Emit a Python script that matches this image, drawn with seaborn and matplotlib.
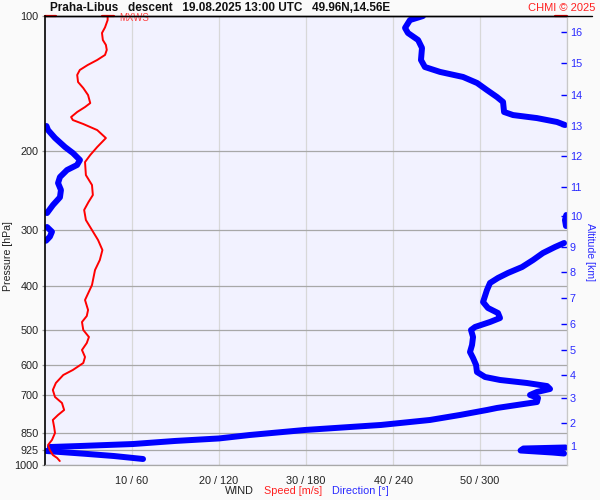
import numpy as np
import pandas as pd
import matplotlib.pyplot as plt
import seaborn as sns
from matplotlib.lines import Line2D

sns.set_style("white")
plt.rcParams['font.family'] = ['Liberation Sans', 'DejaVu Sans']

# velocidad del viento (m/s) por nivel de presion (hPa)
speed_p = [100, 102.1, 106, 109.1, 113.1, 116.0, 119.0, 122.1, 125.3, 128.6,
           131.9, 135.3, 140.3, 144.7, 150.0, 156.3, 159.5, 163.6, 167.9, 170.5,
           174.0, 179.5, 187.0, 195.8, 204.0, 211.5, 226.1, 237.9, 250.5, 259.6,
           270.4, 284.7, 299.7, 315.5, 332.1, 349.5, 367.9, 397.4, 429.1, 451.6,
           465.8, 480.3, 500.4, 518.7, 535.0, 554.4, 574.7, 592.7, 614.3, 630.3,
           656.6, 680.7, 705.5, 727.6, 754.2, 773.7, 793.8, 823.0, 848.6, 879.5,
           902.5, 925.9, 949.9, 964.7, 979.8]
speed_ms = [7.2, 7.2, 6.9, 6.55, 6.65, 7.0, 7.1, 6.9, 6.0, 4.9,
            4.0, 3.7, 3.8, 4.4, 4.95, 5.2, 4.6, 3.7, 3.0, 3.2,
            4.4, 6.0, 7.0, 6.0, 5.2, 4.6, 4.7, 5.4, 5.5, 5.0,
            4.5, 4.7, 5.4, 6.1, 6.6, 6.3, 5.75, 5.4, 4.6, 4.95,
            4.8, 4.25, 4.4, 5.05, 4.8, 4.25, 4.6, 4.4, 3.2, 2.1,
            1.25, 0.9, 1.15, 1.95, 2.2, 1.5, 0.9, 1.05, 1.15, 0.8,
            0.35, 0.55, 0.9, 1.4, 1.7]

# direccion del viento (grados) por nivel de presion (hPa)
dir_p = [100, 102.1, 106.3, 109.1, 113.1, 117.8, 125.3, 129.9, 133.2, 136.7,
         141.0, 146.2, 151.5, 155.4, 163.6, 166.2, 168.8, 172.2, 174.9,
         175.8, 179.5, 186.9, 195.8, 202.0, 209.3, 214.7, 220.3, 228.4, 235.5,
         244.1, 253.4, 263.6, 274.7,
         277.5, 284.7, 293.6,
         295.1, 302.4, 310.0, 316.6,
         320.3, 327.0, 337.2, 349.5, 362.3, 373.5, 383.2, 393.2, 407.6, 433.5,
         447.0, 458.7, 470.6, 480.3, 492.7, 500.4, 518.6, 540.4, 560.2, 577.7,
         598.8, 620.7, 636.8, 646.6, 656.7, 667.0, 677.1, 687.7, 698.3, 709.0,
         724.0, 735.1, 746.4, 754.2, 773.7, 793.8, 814.4, 835.6, 857.3, 872.7,
         884.0, 898.0, 907.2, 911.9,
         914.1, 918.9, 928.4, 938.0, 942.8,
         930.7, 943.7, 955.0, 969.7]
dir_deg = [260.7, 251.7, 248.3, 250.3, 257.3, 260.0, 259.3, 262.0, 272.4, 288.3,
           298.0, 304.8, 311.7, 315.9, 316.6, 322.8, 339.3, 353.1, 358.6,
           1.0, 2.1, 6.9, 13.8, 19.3, 24.1, 22.1, 15.2, 10.3, 9.0,
           11.0, 10.3, 5.5, 1.4,
           359.5, 358.6, 359.3,
           1.4, 4.8, 3.4, 0.7,
           358.0, 351.7, 343.4, 336.6, 329.0, 319.3, 312.4, 306.9, 304.8, 302.1,
           305.5, 312.4, 313.8, 306.9, 296.6, 293.8, 295.2, 294.5, 293.1, 295.2,
           297.3, 297.9, 303.5, 313.8, 332.4, 346.2, 348.3, 339.3, 334.5, 340.0,
           339.3, 325.5, 311.7, 304.8, 286.2, 265.5, 231.7, 179.3, 141.4, 120.0,
           89.7, 60.7, 24.1, 3.4,
           359.0, 330.0, 328.0, 350.0, 358.0,
           1.0, 26.9, 47.6, 67.6]

p_ticks = [100, 200, 300, 400, 500, 600, 700, 850, 925, 1000]
x_ticks = [10, 20, 30, 40, 50, 60]
x_labels = ['10 / 60', '20 / 120', '30 / 180', '40 / 240', '50 / 300', '']
alt_km = list(range(1, 17))
alt_hpa = [907, 805, 710, 630, 554, 485, 424, 371, 326.5, 279,
           240, 205, 176, 150, 127.4, 108.7]

BLUE = '#0000ff'
RED = '#ff0000'
LBLUE = '#2a2aff'

df_dir = pd.DataFrame({'p': dir_p, 'deg': dir_deg})
# cortar la linea cuando la direccion pasa de 360 a 0
df_dir['seg'] = (df_dir['deg'].diff().abs() > 180).cumsum()
# 360 grados ocupan el mismo ancho que 60 m/s
df_dir['x'] = df_dir['deg'] / 6
df_spd = pd.DataFrame({'p': speed_p, 'v': speed_ms})

fig = plt.figure(figsize=(6, 5), dpi=100, facecolor='#fafafa')
ax = fig.add_axes([45 / 600, 35 / 500, 522 / 600, 449 / 500])
ax.set_facecolor('#f2f2ff')

sns.lineplot(data=df_dir, x='x', y='p', units='seg', estimator=None, sort=False,
             color=BLUE, lw=4.3, ax=ax, solid_capstyle='round')
sns.lineplot(data=df_spd, x='v', y='p', estimator=None, sort=False,
             color=RED, lw=1.4, ax=ax)

ax.set_yscale('log')
ax.set_ylim(1000, 100)
ax.set_xlim(0, 60)
ax.minorticks_off()
ax.set_yticks(p_ticks)
ax.set_yticklabels([str(p) for p in p_ticks])
ax.set_xticks(x_ticks)
ax.set_xticklabels(x_labels)
ax.set_xlabel('')
ax.set_ylabel('')
ax.grid(axis='y', color='#a8a8a8', lw=0.9)
ax.grid(axis='x', color='#d8d8d8', lw=0.9)
ax.set_axisbelow(True)
ax.tick_params(axis='x', length=4.3, width=0.9, color='#d0d0d0', pad=3.5,
               labelsize=7.8, labelcolor='#222222')
ax.tick_params(axis='y', length=2, width=0.9, color='#a0a0a0', pad=2.5,
               labelsize=7.8, labelcolor='#222222')
ax.spines['left'].set_color('black')
ax.spines['left'].set_linewidth(1.2)
ax.spines['top'].set_color('black')
ax.spines['top'].set_linewidth(1.0)
ax.spines['right'].set_visible(False)
ax.spines['bottom'].set_color('#a8a8a8')
ax.spines['bottom'].set_linewidth(0.9)

# marcas rojas arriba y maximo de viento
ax.axhline(100, xmin=0, xmax=11 / 522, color=RED, lw=1.6, clip_on=False)
ax.axhline(100, xmin=1 - 12 / 522, xmax=1, color=RED, lw=1.6, clip_on=False)
mx = max(speed_ms)
ax.plot([mx - 0.7, mx + 0.7], [100, 100], color=RED, lw=1.6, clip_on=False)
ax.text(mx + 1.3, 100.8, 'MXWS', color='#ff4040', fontsize=6.9, va='center', ha='left')

# eje derecho: altitud
ax2 = ax.twinx()
ax2.set_yscale('log')
ax2.set_ylim(1000, 100)
ax2.minorticks_off()
ax2.set_yticks(alt_hpa)
ax2.set_yticklabels([str(k) for k in alt_km])
ax2.tick_params(axis='y', direction='in', length=4.3, width=1, color=BLUE,
                labelcolor=LBLUE, pad=2, labelsize=7.8)
ax2.grid(False)
for s in ['left', 'top', 'bottom']:
    ax2.spines[s].set_visible(False)
ax2.spines['right'].set_color('#c8c8c8')
ax2.spines['right'].set_linewidth(0.9)

fig.add_artist(Line2D([45 / 600, 592 / 600], [1 - 16 / 500] * 2, color='black', lw=1.0))

fig.text(50 / 600, 1 - 8 / 500, 'Praha-Libus   descent   19.08.2025 13:00 UTC   49.96N,14.56E',
         fontsize=8.5, fontweight='bold', ha='left', va='center', color='#111111')
fig.text(595 / 600, 1 - 8 / 500, 'CHMI \u00a9 2025', fontsize=8, color='#ff2020',
         ha='right', va='center')
fig.text(8 / 600, 1 - 256 / 500, 'Pressure [hPa]', rotation=90, fontsize=7.6,
         ha='center', va='center', color='#222222')
fig.text(590 / 600, 1 - 252 / 500, 'Altitude [km]', rotation=270, fontsize=7.6,
         ha='center', va='center', color=LBLUE)
fig.text(225 / 600, 1 - 491 / 500, 'WIND', fontsize=7.8, ha='left', va='center', color='#222222')
fig.text(264 / 600, 1 - 491 / 500, 'Speed [m/s]', fontsize=7.8, ha='left', va='center', color='#ff2020')
fig.text(332 / 600, 1 - 491 / 500, 'Direction [\u00b0]', fontsize=7.8, ha='left', va='center', color=LBLUE)

fig.savefig('out.png', dpi=100, facecolor=fig.get_facecolor())
